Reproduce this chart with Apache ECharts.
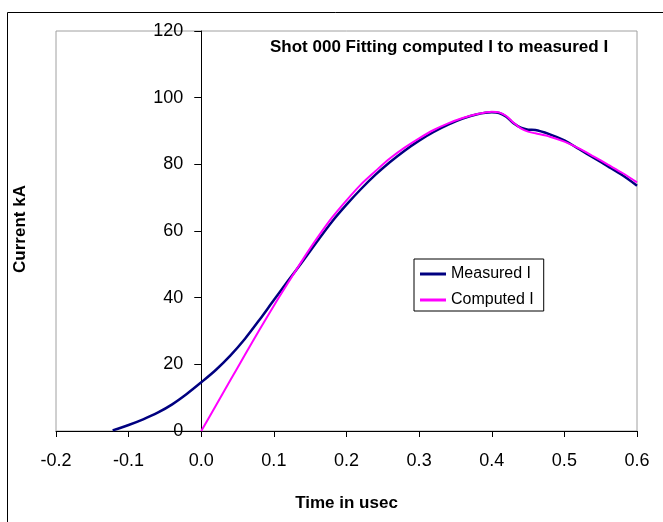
<!DOCTYPE html>
<html>
<head>
<meta charset="utf-8">
<script src="https://cdn.jsdelivr.net/npm/echarts@6/dist/echarts.min.js"></script>
<style>
html,body{margin:0;padding:0;background:#fff;}
#c{width:663px;height:522px;}
</style>
</head>
<body>
<div id="c"></div>
<script>
// Measured current (kA) vs time (usec)
const measuredT = [-0.122, -0.10, -0.08, -0.06, -0.04, -0.02, 0.00, 0.02, 0.04, 0.06, 0.08, 0.10, 0.12, 0.14, 0.16, 0.18, 0.20, 0.22, 0.24, 0.26, 0.28, 0.30, 0.32, 0.34, 0.36, 0.38, 0.40, 0.41, 0.42, 0.43, 0.44, 0.45, 0.46, 0.48, 0.50, 0.52, 0.54, 0.56, 0.58, 0.60];
const measuredI = [0.2, 1.8, 3.5, 5.5, 8.0, 11.1, 14.6, 18.3, 22.6, 27.6, 33.3, 39.3, 45.2, 51.0, 57.0, 62.8, 67.9, 72.6, 76.9, 80.7, 84.1, 87.1, 89.7, 91.9, 93.7, 95.0, 95.6, 95.4, 94.3, 92.3, 91.0, 90.4, 90.3, 89.0, 87.2, 84.6, 82.0, 79.4, 76.7, 73.6];
// Computed current (kA) vs time (usec)
const computedT = [0.00, 0.02, 0.04, 0.06, 0.08, 0.10, 0.12, 0.14, 0.16, 0.18, 0.20, 0.22, 0.24, 0.26, 0.28, 0.30, 0.32, 0.34, 0.36, 0.38, 0.40, 0.41, 0.42, 0.43, 0.44, 0.45, 0.46, 0.48, 0.50, 0.52, 0.54, 0.56, 0.58, 0.60];
const computedI = [0.0, 7.6, 15.2, 22.8, 30.3, 37.6, 44.6, 51.5, 58.0, 64.0, 69.2, 74.0, 78.0, 81.8, 85.0, 87.8, 90.3, 92.3, 93.9, 95.1, 95.8, 95.6, 94.5, 92.5, 90.8, 89.8, 89.3, 88.3, 86.8, 84.8, 82.4, 79.9, 77.4, 74.6];
const xTicks = [-0.2, -0.1, 0.0, 0.1, 0.2, 0.3, 0.4, 0.5, 0.6];
const yTicks = [0, 20, 40, 60, 80, 100, 120];
const seriesNames = ['Measured I', 'Computed I'];
const chartTitle = 'Shot 000 Fitting computed I to measured I';
const xTitle = 'Time in usec';
const yTitle = 'Current kA';

const FONT = "'Liberation Sans', Arial, sans-serif";
const GRID_LEFT = 56, GRID_W = 581;
const xMin = xTicks[0], xMax = xTicks[xTicks.length - 1];
// y axis crosses the x axis at time 0
const yAxisOffset = -GRID_W * (0 - xMin) / (xMax - xMin);

const chart = echarts.init(document.getElementById('c'), null, {renderer: 'canvas'});
const zip = (a, b) => a.map((v, i) => [v, b[i]]);

chart.setOption({
  backgroundColor: '#fff',
  animation: false,
  grid: {left: GRID_LEFT, top: 31, width: GRID_W, height: 400, show: true, borderColor: '#a0a0a0', borderWidth: 1, backgroundColor: 'transparent'},
  xAxis: {
    type: 'value', min: xMin, max: xMax, interval: 0.1,
    axisLine: {show: true, onZero: false, lineStyle: {color: '#000', width: 1}},
    axisTick: {show: true, inside: false, length: 6, lineStyle: {color: '#000'}},
    splitLine: {show: false},
    axisLabel: {margin: 21, fontSize: 18, fontFamily: FONT, color: '#000', formatter: v => v.toFixed(1)}
  },
  yAxis: {
    type: 'value', min: yTicks[0], max: yTicks[yTicks.length - 1], interval: 20,
    position: 'left', offset: yAxisOffset,
    axisLine: {show: true, onZero: false, lineStyle: {color: '#000', width: 1}},
    axisTick: {show: true, inside: false, length: 7, lineStyle: {color: '#000'}},
    splitLine: {show: false},
    axisLabel: {margin: 18, fontSize: 18, fontFamily: FONT, color: '#000'}
  },
  legend: {
    orient: 'vertical', left: 414, top: 259,
    data: seriesNames.map(n => ({name: n, icon: 'rect'})),
    itemWidth: 26, itemHeight: 3, itemGap: 10,
    padding: [7, 10, 3, 6],
    borderColor: '#000', borderWidth: 1, backgroundColor: '#fff',
    textStyle: {fontSize: 16, fontFamily: FONT, color: '#000'}
  },
  graphic: [
    {type: 'rect', silent: true, shape: {x: 7.5, y: 12.5, width: 700, height: 600}, style: {fill: 'none', stroke: '#000', lineWidth: 1}},
    {type: 'text', x: 270, y: 47, style: {text: chartTitle, font: "bold 17px " + FONT, fill: '#000', textAlign: 'left', textVerticalAlign: 'middle'}},
    {type: 'text', x: 346.5, y: 503, style: {text: xTitle, font: "bold 17px " + FONT, fill: '#000', textAlign: 'center', textVerticalAlign: 'middle'}},
    {type: 'text', x: 20, y: 229, rotation: Math.PI / 2, style: {text: yTitle, font: "bold 17px " + FONT, fill: '#000', textAlign: 'center', textVerticalAlign: 'middle'}}
  ],
  series: [
    {name: seriesNames[0], type: 'line', data: zip(measuredT, measuredI), smooth: 0.3, symbol: 'none', showSymbol: false,
     lineStyle: {color: '#000080', width: 2.5}, itemStyle: {color: '#000080'}, z: 2},
    {name: seriesNames[1], type: 'line', data: zip(computedT, computedI), smooth: 0.3, symbol: 'none', showSymbol: false,
     lineStyle: {color: '#FF00FF', width: 2}, itemStyle: {color: '#FF00FF'}, z: 3}
  ]
});
</script>
</body>
</html>
